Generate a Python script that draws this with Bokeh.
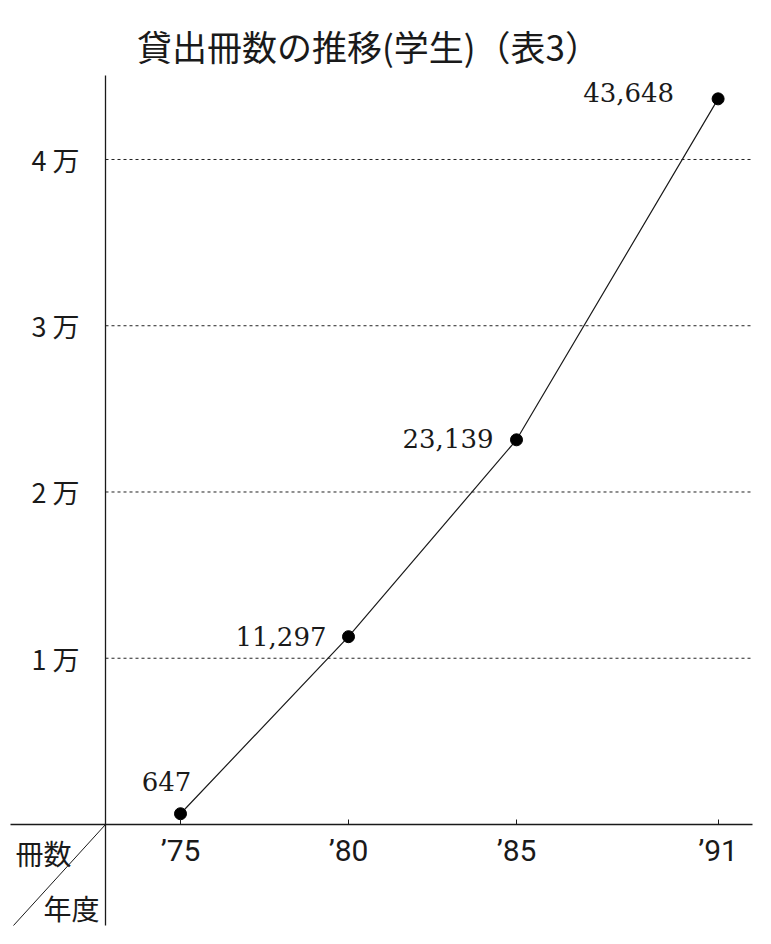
from bokeh.plotting import figure
from bokeh.models import LinearAxis, FixedTicker, ColumnDataSource, Label, Range1d
from bokeh.core.properties import value
from bokeh.embed import file_html
from bokeh.resources import INLINE

# ---- data ----
years = [1975, 1980, 1985, 1991]
year_labels = ["’75", "’80", "’85", "’91"]
counts = [647, 11297, 23139, 43648]
count_labels = ["647", "11,297", "23,139", "43,648"]
y_ticks = [10000, 20000, 30000, 40000]
y_tick_labels = ["1 万", "2 万", "3 万", "4 万"]
title_text = "貸出冊数の推移(学生)（表3）"
corner_top = "冊数"
corner_bottom = "年度"

# ---- geometry (page pixels -> data) ----
W, H = 765, 940
OFF = 0
PX_PER_YEAR = 33.6
UNITS_PER_PX = 60.15
X0 = 1975 - (180 - OFF) / PX_PER_YEAR
X1 = X0 + W / PX_PER_YEAR
Y1 = (824 - OFF) * UNITS_PER_PX
Y0 = Y1 - H * UNITS_PER_PX


def dx(px):
    return X0 + (px - OFF) / PX_PER_YEAR


def dy(py):
    return Y1 - (py - OFF) * UNITS_PER_PX


INK = "#1a1a1a"
JP = "Noto Sans CJK JP"

p = figure(width=W, height=H, x_range=Range1d(X0, X1), y_range=Range1d(Y0, Y1),
           output_backend="svg", toolbar_location=None,
           x_axis_location=None, y_axis_location=None, min_border=0)
p.outline_line_color = None
p.grid.visible = False
p.background_fill_color = "white"
p.border_fill_color = "white"

axis_x = dx(105)

# x axis (fixed at y = 0)
xaxis = LinearAxis(ticker=FixedTicker(ticks=years), fixed_location=0,
                   bounds=(dx(10), dx(752)),
                   major_label_overrides={y: l for y, l in zip(years, year_labels)})
xaxis.axis_line_color = INK
xaxis.axis_line_width = 1.3
xaxis.major_tick_in = 5
xaxis.major_tick_out = 0
xaxis.major_tick_line_color = INK
xaxis.minor_tick_line_color = None
xaxis.major_label_standoff = 8
xaxis.major_label_text_font = "Roboto"
xaxis.major_label_text_font_size = "30px"
xaxis.major_label_text_color = INK
p.add_layout(xaxis, "below")

# y axis (fixed at the left vertical rule)
yaxis = LinearAxis(ticker=FixedTicker(ticks=y_ticks), fixed_location=axis_x,
                   bounds=(dy(925), dy(75)),
                   major_label_overrides={v: l for v, l in zip(y_ticks, y_tick_labels)})
yaxis.axis_line_color = INK
yaxis.axis_line_width = 1.3
yaxis.major_tick_in = 0
yaxis.major_tick_out = 0
yaxis.minor_tick_line_color = None
yaxis.major_label_standoff = 26
yaxis.major_label_text_font = JP
yaxis.major_label_text_font_size = "27px"
yaxis.major_label_text_color = INK
p.add_layout(yaxis, "left")

# dotted grid lines from the vertical rule to the right
p.segment(x0=[axis_x] * len(y_ticks), x1=[dx(750)] * len(y_ticks), y0=y_ticks, y1=y_ticks,
          line_color="#222222", line_width=1, line_dash="3 3")

# corner diagonal
p.segment(x0=[axis_x], y0=[0], x1=[dx(13)], y1=[dy(925)], line_color=INK, line_width=1)

# data line and points
src = ColumnDataSource(dict(x=years, y=counts, label=count_labels,
                            ox=[-14, -22, -23, -44], oy=[-32, 0, -1, -6],
                            align=["center", "right", "right", "right"]))
p.line("x", "y", source=src, line_color=INK, line_width=1.2)
p.scatter("x", "y", source=src, size=12, fill_color="black", line_color="black")
p.text("x", "y", text="label", source=src, x_offset="ox", y_offset="oy",
       text_align="align", text_baseline="middle",
       text_font=value("DejaVu Serif"), text_font_size="26px", text_color=INK)

# title and corner labels
p.add_layout(Label(x=dx(368), y=dy(45), text=title_text, text_align="center",
                   text_baseline="middle", text_font=JP, text_font_size="35px",
                   text_color=INK))
p.add_layout(Label(x=dx(43), y=dy(852), text=corner_top, text_align="center",
                   text_baseline="middle", text_font=JP, text_font_size="28px",
                   text_color=INK))
p.add_layout(Label(x=dx(71), y=dy(907), text=corner_bottom, text_align="center",
                   text_baseline="middle", text_font=JP, text_font_size="28px",
                   text_color=INK))

open("out.html", "w").write(file_html(p, INLINE))
